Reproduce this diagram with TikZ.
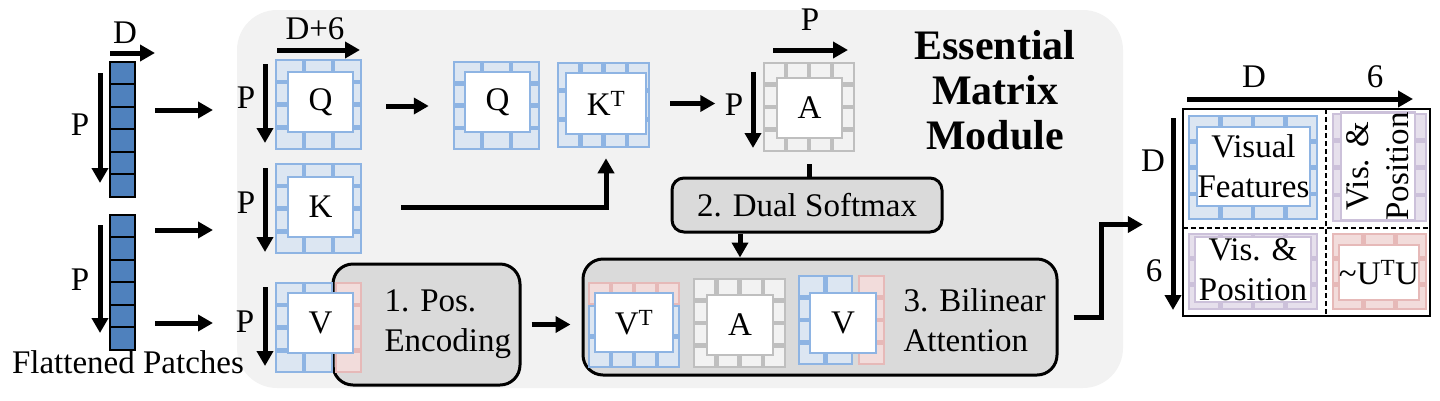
\documentclass[tikz,border=0pt]{standalone}
\usepackage{fontspec}
\setmainfont{Liberation Serif}
\usetikzlibrary{arrows.meta}
\definecolor{blueline}{HTML}{8EB4E3}
\definecolor{bluefill}{HTML}{DCE6F2}
\definecolor{grayline}{HTML}{BFBFBF}
\definecolor{grayfill}{HTML}{F2F2F2}
\definecolor{redline}{HTML}{E6B9B8}
\definecolor{redfill}{HTML}{F2DCDB}
\definecolor{purpline}{HTML}{CCC1DA}
\definecolor{purpfill}{HTML}{E6E0EC}
\definecolor{modbg}{HTML}{F2F2F2}
\definecolor{stepgray}{HTML}{DADADA}
\definecolor{patchblue}{HTML}{4F81BD}
\tikzset{
  arr/.style={line width=5pt,-{Triangle[length=15pt,width=16pt]}},
  conn/.style={line width=5pt},
  stepbox/.style={draw,line width=3pt,fill=stepgray,rounded corners=20pt,inner sep=0pt},
  matbox/.style={draw=#1,line width=2.5pt,fill=white,inner sep=0pt,minimum width=65pt,minimum height=60pt},
  bcell/.style={draw=blueline,fill=bluefill,line width=2.5pt},
  gcell/.style={draw=grayline,fill=grayfill,line width=2.5pt},
  rcell/.style={draw=redline,fill=redfill,line width=2.5pt},
  pcell/.style={draw=purpline,fill=purpfill,line width=2.5pt},
  patch/.style={draw,fill=patchblue,line width=2pt},
  divline/.style={line width=2pt,dash pattern=on 5pt off 3pt}
}
\newcommand\cellgrid[7]{%
  \pgfmathsetmacro\cgw{(#3-#1)/#5}%
  \pgfmathsetmacro\cgh{(#4-#2)/#6}%
  \foreach \ci in {1,...,#5}{\foreach \cj in {1,...,#6}{%
    \draw[#7] ({#1+(\ci-1)*\cgw+1},{#2+(\cj-1)*\cgh+1}) rectangle ({#1+\ci*\cgw-1},{#2+\cj*\cgh-1});}}}

\begin{document}
\begin{tikzpicture}[x=1pt,y=-1pt,font=\fontsize{33}{40}\selectfont]
  \useasboundingbox (0,0) rectangle (1440,400);
  \fill[modbg,rounded corners=40pt] (237,10) rectangle (1123,388);
  \node[font=\fontsize{42}{45}\selectfont\bfseries,align=center] (title) at (995,90)
   {Essential\\Matrix\\Module};

  \node[minimum width=25pt,minimum height=135pt,inner sep=0pt] (col1) at (122.5,129.5) {};
  \node[minimum width=25pt,minimum height=135pt,inner sep=0pt] (col2) at (122.5,282.5) {};
  \foreach \j in {0,...,5} {
    \draw[patch] ([yshift=-22.5*\j pt]col1.north west) rectangle ++(25,22.5);
    \draw[patch] ([yshift=-22.5*\j pt]col2.north west) rectangle ++(25,22.5);
  }
  \draw[arr] (110,53) -- (155,53);
  \node (dcol) at (125,33) {D};
  \draw[arr] (100,73) -- (100,183);
  \node (pcol1) at (80,125) {P};
  \draw[arr] (100,225) -- (100,333);
  \node (pcol2) at (80,280) {P};
  \node (flat) at (128,362) {Flattened Patches};

  \node[stepbox,minimum width=187pt,minimum height=121pt] (pos) at (426.5,324.5) {};
  \node[stepbox,minimum width=474pt,minimum height=116pt] (bil) at (820,317) {};
  \node[stepbox,rounded corners=12pt,minimum width=270pt,minimum height=54pt] (dual) at (807,205)
   {2. Dual Softmax};
  \node[anchor=west,align=left] (postxt) at (381,324) {1. Pos.\\Encoding};
  \node[anchor=west,align=left] (biltxt) at (900,320) {3. Bilinear\\Attention};

  \cellgrid{275}{59}{362}{150}{3}{4}{bcell}
  \node[matbox=blueline] (q1) at (320.5,102) {Q};
  \cellgrid{275}{163}{362}{254}{3}{4}{bcell}
  \node[matbox=blueline] (k) at (320.5,207) {K};
  \cellgrid{275}{282}{333}{373}{2}{4}{bcell}
  \cellgrid{335}{282}{362}{373}{1}{4}{rcell}
  \node[matbox=blueline] (v) at (320.5,323) {V};
  \cellgrid{453}{61}{540}{150}{3}{4}{bcell}
  \node[matbox=blueline] (q2) at (497.5,102) {Q};
  \cellgrid{557}{62}{650}{148}{4}{3}{bcell}
  \node[matbox=blueline,minimum width=80pt,minimum height=61pt] (kt) at (606,103.5) {K\textsuperscript{T}};
  \cellgrid{763}{62}{855}{152}{4}{4}{gcell}
  \node[matbox=grayline] (a1) at (809.5,108) {A};
  \cellgrid{588}{282}{680}{305}{4}{1}{rcell}
  \cellgrid{588}{305}{680}{368}{4}{2}{bcell}
  \node[matbox=blueline,minimum width=78pt,minimum height=59pt] (vt) at (634,322.5) {V\textsuperscript{T}};
  \cellgrid{693}{278}{786}{368}{4}{4}{gcell}
  \node[matbox=grayline,minimum width=66pt] (a2) at (740,325) {A};
  \cellgrid{798}{275}{853}{365}{2}{4}{bcell}
  \cellgrid{858}{275}{885}{365}{1}{4}{rcell}
  \node[matbox=blueline,minimum width=66pt] (v2) at (843,323) {V};

  \draw[arr] (277,50) -- (360,50);
  \node (dq) at (315,29) {D+6};
  \draw[arr] (265,64) -- (265,143);
  \node (pq) at (246,98) {P};
  \draw[arr] (265,168) -- (265,252);
  \node (pk) at (246,203) {P};
  \draw[arr] (265,287) -- (265,366);
  \node (pv) at (245,322) {P};
  \draw[arr] (773,50) -- (848,50);
  \node (pat) at (810,20) {P};
  \draw[arr] (753,72) -- (753,148);
  \node (pa) at (734,105) {P};

  \coordinate (qin) at (213,110);
  \coordinate (kin) at (213,230);
  \coordinate (vin) at (213,323);
  \draw[arr,shorten <=20pt] (col1.east |- qin) -- (qin);
  \draw[arr,shorten <=20pt] (col2.east |- kin) -- (kin);
  \draw[arr,shorten <=20pt] (col2.east |- vin) -- (vin);
  \draw[arr,shorten <=32pt,shorten >=35pt] ([yshift=-4pt]q1.east) -- ([yshift=-4pt]q2.west);
  \draw[arr] ([xshift=47pt]k.east) -| ([yshift=-23pt]kt.south);
  \draw[arr,shorten <=23pt,shorten >=6pt] (kt.east) -- (kt.east -| pa.west);
  \draw[conn] ([yshift=-25pt]a1.south) -- (dual.north -| a1.south);
  \draw[arr] (dual.south -| a2) -- (bil.north -| a2);
  \draw[arr,shorten <=10pt,shorten >=11pt] (pos.east) -- (pos.east -| bil.west);

  \node[minimum width=247pt,minimum height=207pt,inner sep=0pt] (outm) at (1306.5,212.5) {};
  \cellgrid{1188}{115}{1318}{220}{4}{4}{bcell}
  \node[matbox=blueline,minimum width=113pt,minimum height=79pt,align=center] (vf) at (1253.5,166.5)
   {Visual\\Features};
  \cellgrid{1332}{113}{1427}{222}{3}{4}{pcell}
  \node[matbox=purpline,rotate=90,minimum width=107pt,minimum height=74pt,align=center] (vp1) at (1378,166.5)
   {Vis. \&\\Position};
  \cellgrid{1188}{233}{1318}{310}{4}{3}{pcell}
  \node[matbox=purpline,minimum width=116pt,minimum height=65pt,align=center] (vp2) at (1253,269.5)
   {Vis. \&\\Position};
  \cellgrid{1332}{233}{1427}{310}{3}{3}{rcell}
  \node[matbox=redline,minimum width=78pt,minimum height=55pt] (utu) at (1379,272.5)
   {\textasciitilde U\textsuperscript{T}U};
  \draw[line width=2.5pt] (outm.north west) rectangle (outm.south east);
  \draw[divline] ([xshift=19.5pt]outm.north) -- ([xshift=19.5pt]outm.south);
  \draw[divline] ([yshift=-15.5pt]outm.west) -- ([yshift=-15.5pt]outm.east);
  \draw[arr] (1187,99) -- (1413,99);
  \node (dout) at (1254,77) {D};
  \node (sixout) at (1375,77) {6};
  \draw[arr] (1173,118) -- (1173,310);
  \node (doutl) at (1153,161) {D};
  \node (sixoutl) at (1154,271) {6};
  \draw[arr] ([xshift=15pt]bil.east) -- ++(28,0) |- ([xshift=-40pt,yshift=-12pt]outm.west);
\end{tikzpicture}
\end{document}
